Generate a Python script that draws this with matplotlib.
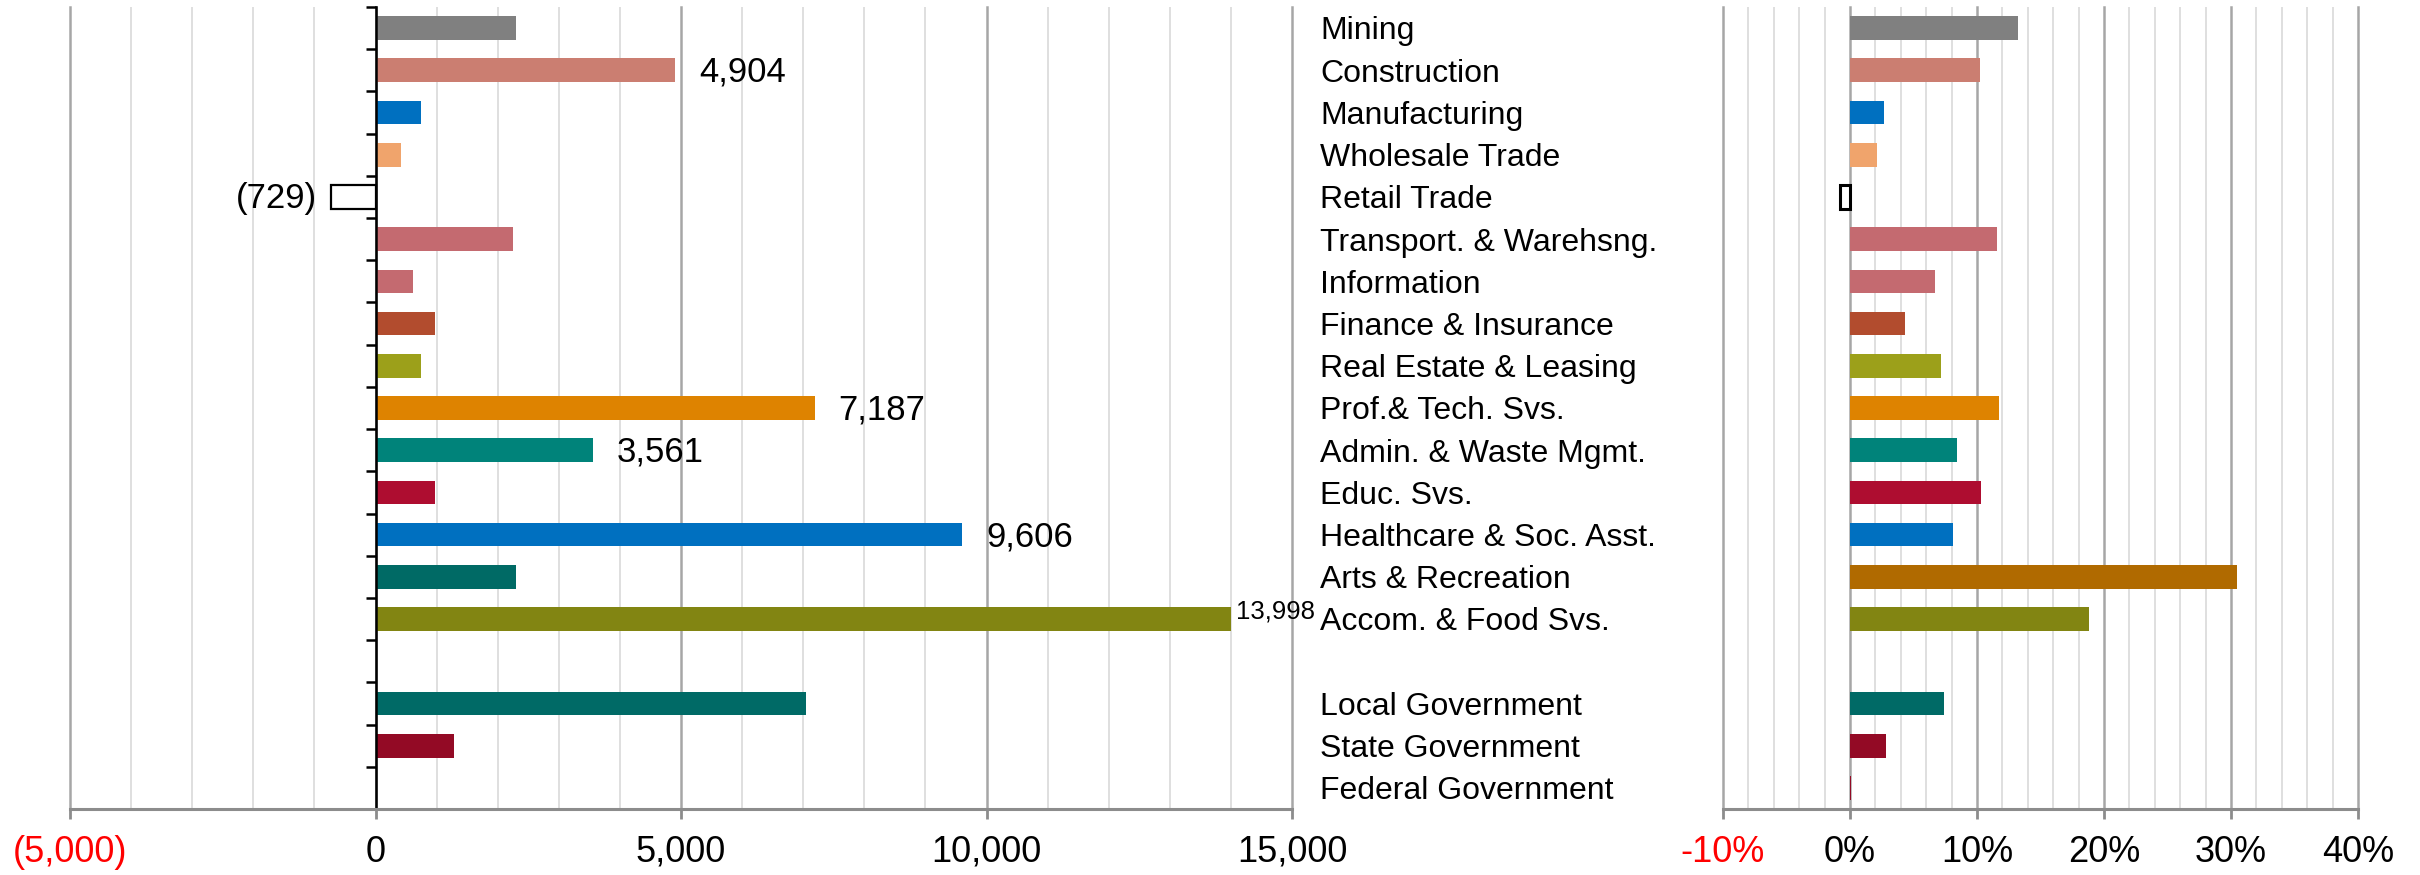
import numpy as np
import matplotlib.pyplot as plt
import matplotlib.transforms as mtrans
from matplotlib.ticker import MultipleLocator

plt.rcParams['font.family'] = ['Liberation Sans', 'DejaVu Sans']

# industries, top to bottom ('' = spacer row)
categories = ['Mining', 'Construction', 'Manufacturing', 'Wholesale Trade', 'Retail Trade',
              'Transport. & Warehsng.', 'Information', 'Finance & Insurance',
              'Real Estate & Leasing', 'Prof.& Tech. Svs.', 'Admin. & Waste Mgmt.',
              'Educ. Svs.', 'Healthcare & Soc. Asst.', 'Arts & Recreation',
              'Accom. & Food Svs.', '', 'Local Government', 'State Government',
              'Federal Government']
# job change (left) and percent change (right)
job_change = [2300, 4904, 740, 410, -729, 2250, 610, 970, 740, 7187, 3561, 970, 9606,
              2300, 13998, np.nan, 7044, 1280, 10]
pct_change = [13.2, 10.2, 2.7, 2.1, -0.8, 11.6, 6.7, 4.3, 7.2, 11.7, 8.4, 10.3, 8.1,
              30.5, 18.8, np.nan, 7.4, 2.8, 0.1]
left_colors = ['#808080', '#cb7e71', '#0070c0', '#f0a46c', 'white', '#c46a70', '#c46a70',
               '#b24c2e', '#9ca01a', '#de8300', '#00837a', '#ae0d30', '#0070c0', '#006a65',
               '#828512', 'white', '#006a66', '#930a25', '#930a25']
right_colors = ['#808080', '#cb7e71', '#0070c0', '#f0a46c', 'white', '#c46a70', '#c46a70',
                '#b24c2e', '#9ca01a', '#de8300', '#00837a', '#ae0d30', '#0070c0', '#b06a00',
                '#828512', 'white', '#006a66', '#930a25', '#930a25']
labelled = ['Construction', 'Retail Trade', 'Prof.& Tech. Svs.', 'Admin. & Waste Mgmt.',
            'Healthcare & Soc. Asst.', 'Accom. & Food Svs.']
left_ticks = [-5000, 0, 5000, 10000, 15000]
left_ticklabels = ['(5,000)', '0', '5,000', '10,000', '15,000']
right_ticks = [-10, 0, 10, 20, 30, 40]
right_ticklabels = ['-10%', '0%', '10%', '20%', '30%', '40%']

W, H = 2420, 875
fig = plt.figure(figsize=(W / 100, H / 100), dpi=100)
top, bot = 7, 809
ax1 = fig.add_axes([70 / W, (H - bot) / H, (1292 - 70) / W, (bot - top) / H])
ax2 = fig.add_axes([1723 / W, (H - bot) / H, (2358 - 1723) / W, (bot - top) / H])

rows = np.arange(len(categories))
ok = ~np.isnan(job_change)


def style(ax, ticks, labels, minor):
    ax.set_xlim(ticks[0], ticks[-1])
    ax.set_ylim(len(categories) - 0.5, -0.5)
    ax.set_xticks(ticks)
    ax.set_xticklabels(labels)
    ax.xaxis.set_minor_locator(MultipleLocator(minor))
    ax.grid(which='major', axis='x', color='#a6a6a6', lw=1.8)
    ax.grid(which='minor', axis='x', color='#dcdcdc', lw=1.3)
    ax.set_axisbelow(True)
    for g in ax.get_xgridlines():
        g.set_clip_on(False)
    ax.spines['top'].set_visible(False)
    ax.spines['right'].set_visible(False)
    ax.spines['bottom'].set_color('#8c8c8c')
    ax.spines['bottom'].set_linewidth(2.2)
    ax.tick_params(axis='x', which='major', direction='out', length=7.5, width=2,
                   color='#8c8c8c', labelsize=26, pad=11)
    ax.tick_params(axis='x', which='minor', length=0)
    ax.get_xticklabels()[0].set_color('red')


style(ax1, left_ticks, left_ticklabels, 1000)
style(ax2, right_ticks, right_ticklabels, 2)

# left: black zero axis with category ticks
ax1.spines['left'].set_position(('data', 0))
ax1.spines['left'].set_color('black')
ax1.spines['left'].set_linewidth(1.8)
ax1.set_yticks(np.arange(-0.5, len(categories), 1))
ax1.set_yticklabels([])
ax1.tick_params(axis='y', direction='out', length=7.5, width=1.8, color='black')
ax2.spines['left'].set_visible(False)
ax2.set_yticks([])

jv = np.array(job_change)[ok]
pv = np.array(pct_change)[ok]
edges = ['black' if v < 0 else 'none' for v in jv]
ax1.barh(rows[ok], jv, height=0.56, color=np.array(left_colors)[ok], edgecolor=edges, lw=1.6)
ax2.barh(rows[ok], pv, height=0.56, color=np.array(right_colors)[ok], edgecolor=edges, lw=2.2)

# data labels
for name in labelled:
    i = categories.index(name)
    v = job_change[i]
    if v < 0:
        ax1.annotate(f'({-v:,})', (v, i), xytext=(-14, -2), textcoords='offset pixels',
                     ha='right', va='center', fontsize=25)
    elif v > 12000:
        ax1.annotate(f'{v:,}', (v, i), xytext=(5, 8), textcoords='offset pixels',
                     ha='left', va='center', fontsize=18.5)
    else:
        ax1.annotate(f'{v:,}', (v, i), xytext=(24, -2), textcoords='offset pixels',
                     ha='left', va='center', fontsize=25)

# category names between the two panels
trans = mtrans.blended_transform_factory(ax1.transAxes, ax1.transData)
for i, name in enumerate(categories):
    ax1.text((1320 - 70) / 1222, i + 0.08, name, transform=trans, ha='left', va='center',
             fontsize=23, clip_on=False)

fig.savefig('out.png', dpi=100)
